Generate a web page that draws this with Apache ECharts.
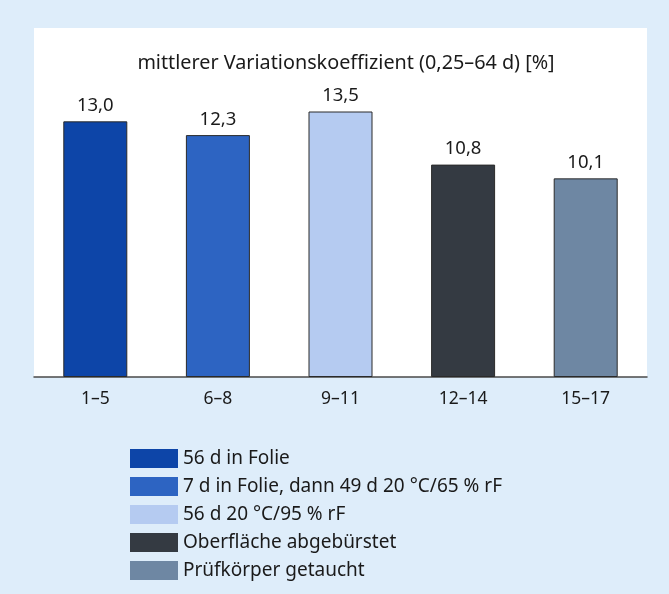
<!DOCTYPE html>
<html>
<head>
<meta charset="utf-8">
<script src="https://cdn.jsdelivr.net/npm/echarts@6/dist/echarts.min.js"></script>
<style>
html, body { margin: 0; padding: 0; background: #deedfa; }
#main { width: 669px; height: 594px; }
</style>
</head>
<body>
<div id="main"></div>
<script>
const categories = ['1–5', '6–8', '9–11', '12–14', '15–17'];
const values = [13.0, 12.3, 13.5, 10.8, 10.1];
const seriesNames = [
    '56 d in Folie',
    '7 d in Folie, dann 49 d 20 °C/65 % rF',
    '56 d 20 °C/95 % rF',
    'Oberfläche abgebürstet',
    'Prüfkörper getaucht'
];
const colors = ['#0d45a8', '#2d64c2', '#b5cbf1', '#343a42', '#6e87a3'];

const font = '"Noto Sans", sans-serif';

// one series per bar so each gets its own legend entry
function makeSeries() {
    let out = [];
    for (let i = 0; i < values.length; i++) {
        let d = values.map((v, j) => j === i ? v : null);
        out.push({
            name: seriesNames[i],
            type: 'bar',
            stack: 'all',
            barWidth: 64,
            data: d,
            itemStyle: {
                color: colors[i],
                borderColor: '#2a2a2a',
                borderWidth: 1
            },
            label: {
                show: true,
                position: 'top',
                distance: 6,
                fontFamily: font,
                fontSize: 18.5,
                color: '#1a1a1a',
                formatter: p => p.value.toFixed(1).replace('.', ',')
            }
        });
    }
    return out;
}

const chart = echarts.init(document.getElementById('main'));
chart.setOption({
    backgroundColor: '#deedfa',
    animation: false,
    graphic: [{
        type: 'rect',
        z: -10,
        shape: {x: 34, y: 28, width: 613, height: 349},
        style: {fill: '#ffffff'}
    }],
    title: {
        text: 'mittlerer Variationskoeffizient (0,25–64 d) [%]',
        left: 341,
        textAlign: 'center',
        top: 48,
        textStyle: {
            fontFamily: font,
            fontSize: 19.8,
            fontWeight: 'normal',
            color: '#1a1a1a'
        }
    },
    legend: {
        orient: 'vertical',
        left: 125,
        top: 444,
        height: 200,
        icon: 'rect',
        itemWidth: 48,
        itemHeight: 19,
        itemGap: 9,
        data: seriesNames,
        itemStyle: {borderWidth: 0},
        textStyle: {
            fontFamily: font,
            fontSize: 19,
            color: '#1a1a1a'
        }
    },
    grid: {
        left: 34,
        right: 22,
        top: 82,
        bottom: 217
    },
    xAxis: {
        type: 'category',
        data: categories,
        axisTick: {show: false},
        axisLine: {lineStyle: {color: '#4a4a4a', width: 1.5}},
        axisLabel: {
            margin: 13,
            fontFamily: font,
            fontSize: 17.5,
            color: '#1a1a1a'
        }
    },
    yAxis: {
        type: 'value',
        min: 0,
        max: 15,
        show: false
    },
    series: makeSeries()
});
</script>
</body>
</html>
